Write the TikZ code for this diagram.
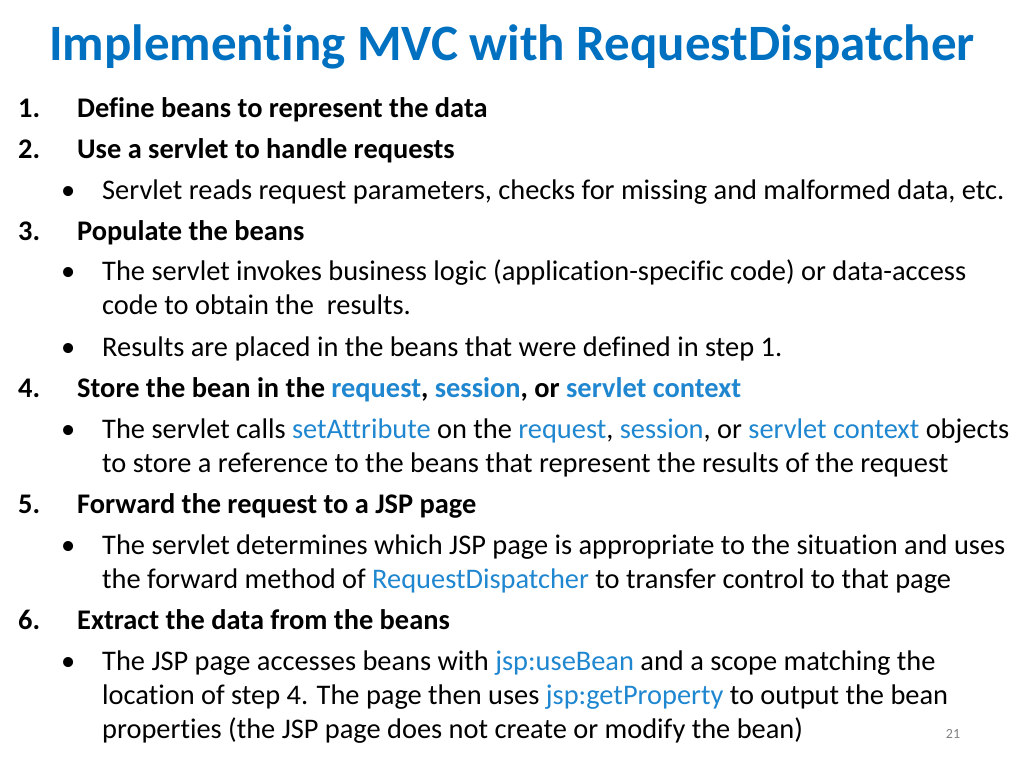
\documentclass[tikz,border=0pt]{standalone}
\usepackage{fontspec}
\setmainfont[Ligatures={NoCommon}]{Carlito}
\definecolor{tblue}{HTML}{0070C0}
\definecolor{hblue}{HTML}{1F86D0}
\newcommand{\hb}[1]{\textcolor{hblue}{#1}}
\begin{document}
\begin{tikzpicture}[x=1pt,y=-1pt,
  txt/.style={anchor=base west,inner sep=0pt,font=\fontsize{28.4}{32}\selectfont},
  num/.style={txt,font=\fontsize{28.4}{32}\selectfont\bfseries},
  bul/.style={txt}]
\useasboundingbox (0,0) rectangle (1024,768);
\node[anchor=base,inner sep=0pt,text=tblue,font=\fontsize{51}{56}\selectfont\bfseries] (title) at (512,60) {Implementing MVC with RequestDispatcher};
\node[num] (n1) at (18,117) {1.};
\node[num] (l1) at (77,117) {Define beans to represent the data};
\node[num] (n2) at (18,158) {2.};
\node[num] (l2) at (77,158) {Use a servlet to handle requests};
\node[txt] (b1) at (61,199) {•};
\node[txt] (l3) at (102,199) {Servlet reads request parameters, checks for missing and malformed data, etc.};
\node[num] (n3) at (18,240) {3.};
\node[num] (l4) at (77,240) {Populate the beans};
\node[txt] (b2) at (61,280) {•};
\node[txt] (l5) at (102,280) {The servlet invokes business logic (application-specific code) or data-access};
\node[txt] (l6) at (102,314) {code to obtain the\ \ results.};
\node[txt] (b3) at (61,356) {•};
\node[txt] (l7) at (102,356) {Results are placed in the beans that were defined in step 1.};
\node[num] (n4) at (18,397) {4.};
\node[num] (l8) at (77,397) {Store the bean in the \hb{request}, \hb{session}, or \hb{servlet context}};
\node[txt] (b4) at (61,438) {•};
\node[txt] (l9) at (102,438) {The servlet calls \hb{setAttribute} on the \hb{request}, \hb{session}, or \hb{servlet context} objects};
\node[txt] (l10) at (102,472) {to store a reference to the beans that represent the results of the request};
\node[num] (n5) at (18,513) {5.};
\node[num] (l11) at (77,513) {Forward the request to a JSP page};
\node[txt] (b5) at (61,554) {•};
\node[txt] (l12) at (102,554) {The servlet determines which JSP page is appropriate to the situation and uses};
\node[txt] (l13) at (102,588) {the forward method of \hb{RequestDispatcher} to transfer control to that page};
\node[num] (n6) at (18,629) {6.};
\node[num] (l14) at (77,629) {Extract the data from the beans};
\node[txt] (b6) at (61,670) {•};
\node[txt] (l15) at (102,670) {The JSP page accesses beans with \hb{jsp:useBean} and a scope matching the};
\node[txt] (l16) at (102,704) {location of step 4. The page then uses \hb{jsp:getProperty} to output the bean};
\node[txt] (l17) at (102,738) {properties (the JSP page does not create or modify the bean)};
\node[anchor=base,inner sep=0pt,text=gray,font=\fontsize{14}{16}\selectfont] (pg) at (953,738) {21};
\end{tikzpicture}
\end{document}
